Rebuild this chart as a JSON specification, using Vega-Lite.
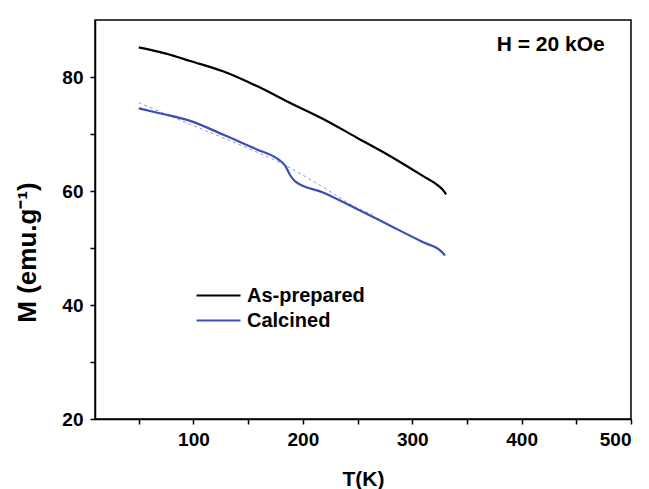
{
  "$schema": "https://vega.github.io/schema/vega-lite/v6.json",
  "autosize": {"type": "none"},
  "width": 536,
  "height": 399,
  "padding": {"left": 95, "top": 20, "right": 18, "bottom": 70},
  "background": "white",
  "config": {
    "view": {"stroke": "black", "strokeWidth": 1.5},
    "font": "Liberation Sans",
    "axis": {
      "grid": false,
      "domainColor": "black",
      "domainWidth": 1.5,
      "tickColor": "black",
      "tickWidth": 1.5,
      "tickSize": 5,
      "labelFont": "Liberation Sans",
      "labelFontWeight": "bold",
      "labelFontSize": 19,
      "labelColor": "black",
      "titleFont": "Liberation Sans",
      "titleFontWeight": "bold",
      "titleFontSize": 21,
      "titleColor": "black"
    }
  },
  "datasets": {
    "curves": [
      {"T": 50, "M": 85.2, "sample": "As-prepared"},
      {"T": 75, "M": 84.1, "sample": "As-prepared"},
      {"T": 97, "M": 82.8, "sample": "As-prepared"},
      {"T": 127, "M": 81.0, "sample": "As-prepared"},
      {"T": 158, "M": 78.4, "sample": "As-prepared"},
      {"T": 188, "M": 75.5, "sample": "As-prepared"},
      {"T": 219, "M": 72.6, "sample": "As-prepared"},
      {"T": 249, "M": 69.4, "sample": "As-prepared"},
      {"T": 280, "M": 66.1, "sample": "As-prepared"},
      {"T": 310, "M": 62.6, "sample": "As-prepared"},
      {"T": 324, "M": 60.9, "sample": "As-prepared"},
      {"T": 328, "M": 60.2, "sample": "As-prepared"},
      {"T": 331, "M": 59.4, "sample": "As-prepared"},
      {"T": 50, "M": 74.5, "sample": "Calcined"},
      {"T": 70, "M": 73.6, "sample": "Calcined"},
      {"T": 97, "M": 72.3, "sample": "Calcined"},
      {"T": 127, "M": 69.9, "sample": "Calcined"},
      {"T": 158, "M": 67.3, "sample": "Calcined"},
      {"T": 172, "M": 66.2, "sample": "Calcined"},
      {"T": 178, "M": 65.5, "sample": "Calcined"},
      {"T": 184, "M": 64.4, "sample": "Calcined"},
      {"T": 188, "M": 62.9, "sample": "Calcined"},
      {"T": 193, "M": 61.7, "sample": "Calcined"},
      {"T": 219, "M": 59.7, "sample": "Calcined"},
      {"T": 249, "M": 56.9, "sample": "Calcined"},
      {"T": 280, "M": 53.9, "sample": "Calcined"},
      {"T": 310, "M": 51.0, "sample": "Calcined"},
      {"T": 326, "M": 49.5, "sample": "Calcined"},
      {"T": 330, "M": 48.7, "sample": "Calcined"}
    ],
    "fit": [
      {"T": 50, "M": 75.5},
      {"T": 97, "M": 71.7},
      {"T": 140, "M": 68.3},
      {"T": 182, "M": 64.7},
      {"T": 220, "M": 60.5},
      {"T": 249, "M": 57.1},
      {"T": 264, "M": 55.9}
    ],
    "note": [
      {"T": 476, "M": 84.5, "label": "H = 20 kOe"}
    ]
  },
  "layer": [
    {
      "data": {"name": "fit"},
      "mark": {"type": "line", "color": "#8c97cc", "strokeWidth": 1, "strokeDash": [3, 3], "interpolate": "monotone"},
      "encoding": {
        "x": {"field": "T", "type": "quantitative"},
        "y": {"field": "M", "type": "quantitative"}
      }
    },
    {
      "data": {"name": "curves"},
      "mark": {"type": "line", "strokeWidth": 2.2, "interpolate": "monotone"},
      "encoding": {
        "x": {
          "field": "T",
          "type": "quantitative",
          "scale": {"domain": [10, 500], "nice": false, "zero": false},
          "axis": {
            "title": "T(K)",
            "values": [50, 100, 150, 200, 250, 300, 350, 400, 450, 500],
            "labelExpr": "datum.value % 100 == 0 ? datum.label : ''",
            "labelPadding": 6,
            "titlePadding": 19
          }
        },
        "y": {
          "field": "M",
          "type": "quantitative",
          "scale": {"domain": [20, 90], "nice": false, "zero": false},
          "axis": {
            "title": "M (emu.g⁻¹)",
            "values": [20, 30, 40, 50, 60, 70, 80],
            "labelExpr": "datum.value % 20 == 0 ? datum.label : ''",
            "labelPadding": 7,
            "titleFontSize": 26,
            "titleX": -68,
            "titleY": 232,
            "titleAngle": -90,
            "titleAlign": "center",
            "titleBaseline": "middle"
          }
        },
        "color": {
          "field": "sample",
          "type": "nominal",
          "scale": {"domain": ["As-prepared", "Calcined"], "range": ["#000000", "#3b4fb4"]},
          "legend": {
            "title": null,
            "orient": "none",
            "legendX": 100,
            "legendY": 263,
            "symbolType": "stroke",
            "symbolSize": 1936,
            "symbolStrokeWidth": 2.2,
            "clipHeight": 25,
            "labelFont": "Liberation Sans",
            "labelFontWeight": "bold",
            "labelFontSize": 20,
            "labelColor": "black",
            "labelOffset": 5,
            "rowPadding": 0
          }
        }
      }
    },
    {
      "data": {"name": "note"},
      "mark": {"type": "text", "align": "right", "baseline": "alphabetic", "fontSize": 21, "fontWeight": "bold", "font": "Liberation Sans", "color": "black"},
      "encoding": {
        "x": {"field": "T", "type": "quantitative"},
        "y": {"field": "M", "type": "quantitative"},
        "text": {"field": "label"}
      }
    }
  ]
}
